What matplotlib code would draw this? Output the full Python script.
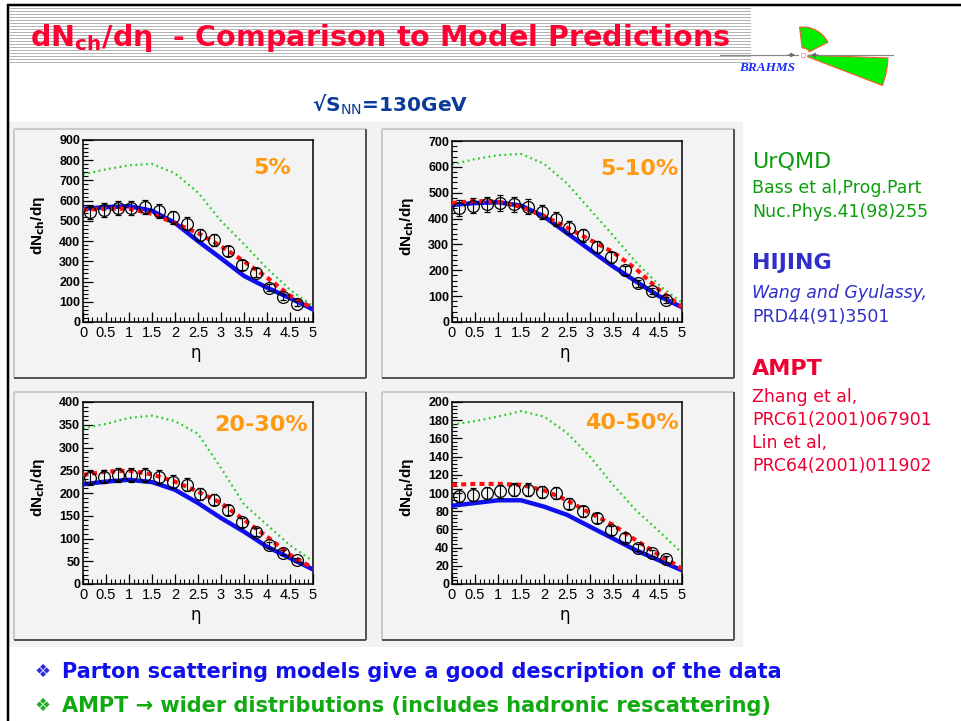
import numpy as np
import matplotlib
matplotlib.use('Agg')
import matplotlib.pyplot as plt
from matplotlib.patches import Rectangle, Wedge
from matplotlib.ticker import MultipleLocator

W, H = 961, 721

# ---------------- data ----------------
eta_data = [0.15, 0.45, 0.75, 1.05, 1.35, 1.65, 1.95, 2.25, 2.55, 2.85, 3.15, 3.45, 3.75, 4.05, 4.35, 4.65]
eta_model = [0.0, 0.5, 1.0, 1.5, 2.0, 2.5, 3.0, 3.5, 4.0, 4.5, 5.0]

centralities = ['5%', '5-10%', '20-30%', '40-50%']

data_05 = [545, 553, 563, 563, 570, 548, 518, 487, 432, 405, 350, 283, 243, 170, 125, 90]
err_05 = [35, 35, 35, 35, 35, 34, 33, 32, 30, 28, 26, 24, 22, 18, 15, 12]
hijing_05 = [560, 568, 573, 550, 490, 400, 315, 228, 170, 118, 62]
ampt_05 = [555, 560, 560, 535, 488, 440, 375, 300, 220, 130, 68]
urqmd_05 = [730, 755, 775, 782, 735, 640, 500, 385, 265, 160, 78]

data_10 = [440, 450, 455, 460, 455, 445, 425, 400, 365, 335, 290, 250, 200, 150, 120, 85]
err_10 = [30, 30, 30, 30, 30, 29, 28, 27, 25, 24, 22, 20, 17, 14, 12, 10]
hijing_10 = [453, 460, 463, 450, 408, 344, 279, 215, 157, 100, 57]
ampt_10 = [460, 468, 465, 445, 410, 365, 318, 270, 205, 125, 58]
urqmd_10 = [610, 630, 645, 650, 612, 536, 435, 335, 232, 143, 75]

data_30 = [233, 236, 239, 240, 240, 235, 225, 218, 198, 185, 163, 136, 115, 86, 69, 53]
err_30 = [15, 15, 15, 15, 15, 15, 14, 14, 13, 12, 11, 10, 9, 7, 6, 5]
hijing_30 = [219, 225, 229, 224, 207, 178, 145, 115, 82, 57, 32]
ampt_30 = [240, 247, 249, 241, 225, 203, 178, 141, 104, 64, 35]
urqmd_30 = [342, 352, 365, 370, 358, 330, 255, 175, 130, 85, 50]

data_50 = [97, 98, 100, 102, 103.5, 103.5, 101, 100, 88, 80, 72, 59, 51, 40, 34, 27.5]
err_50 = [7, 7, 7, 7, 7, 7, 7, 7, 6, 6, 5.5, 5, 4.5, 4, 3, 3]
hijing_50 = [86, 89, 92, 92, 85, 76, 63, 50, 37, 26, 15]
ampt_50 = [109, 110, 110, 109, 103, 92, 78, 65, 48, 32, 17]
urqmd_50 = [175, 179, 184, 190, 184, 166, 140, 109, 81, 58, 34]

y_max = [900, 700, 400, 200]
y_step = [100, 100, 50, 20]
x_ticks = [0, 0.5, 1, 1.5, 2, 2.5, 3, 3.5, 4, 4.5, 5]
x_tick_labels = ['0', '0.5', '1', '1.5', '2', '2.5', '3', '3.5', '4', '4.5', '5']

datas = [data_05, data_10, data_30, data_50]
errs = [err_05, err_10, err_30, err_50]
hijings = [hijing_05, hijing_10, hijing_30, hijing_50]
ampts = [ampt_05, ampt_10, ampt_30, ampt_50]
urqmds = [urqmd_05, urqmd_10, urqmd_30, urqmd_50]

# ---------------- figure ----------------
fig = plt.figure(figsize=(W / 100, H / 100), dpi=100)
fig.patch.set_facecolor('white')

bg = fig.add_axes([0, 0, 1, 1])
bg.set_xlim(0, W)
bg.set_ylim(H, 0)
bg.axis('off')
bg.set_zorder(0)

PX = 72 / 100  # points per pixel

# slide borders
bg.plot([7, W], [4.5, 4.5], color='black', lw=2.5 * PX, solid_capstyle='butt')
bg.plot([7.5, 7.5], [4, H], color='black', lw=2.5 * PX, solid_capstyle='butt')

# title stripes
for ys in np.arange(8, 65, 3):
    bg.plot([9, 750], [ys, ys], color='#b4b4b4', lw=1.0 * PX)

# grey area behind panels
bg.add_patch(Rectangle((9, 122), 734, 525, facecolor='#f2f2f2', edgecolor='none'))

# panel frames
panels = [(14, 129, 366, 378), (382, 129, 734, 378), (14, 392, 366, 640), (382, 392, 734, 640)]
for (x0, y0, x1, y1) in panels:
    bg.add_patch(Rectangle((x0, y0), x1 - x0, y1 - y0, facecolor='#f3f3f3', edgecolor='none'))
    bg.plot([x0, x1], [y0, y0], color='#cacaca', lw=2 * PX, solid_capstyle='butt')
    bg.plot([x0, x0], [y0, y1], color='#cacaca', lw=2 * PX, solid_capstyle='butt')
    bg.plot([x0, x1], [y1, y1], color='#555555', lw=2 * PX, solid_capstyle='butt')
    bg.plot([x1, x1], [y0, y1], color='#555555', lw=2 * PX, solid_capstyle='butt')

# BRAHMS logo
cx, cy = 803, 55
bg.plot([720, 798], [cy, cy], color='#888888', lw=1.2 * PX)
bg.plot([808, 893], [cy, cy], color='#888888', lw=1.2 * PX)
bg.annotate('', xy=(798, cy), xytext=(785, cy),
            arrowprops=dict(arrowstyle='-|>', color='#666666', lw=0.8, mutation_scale=6))
bg.annotate('', xy=(808, cy), xytext=(821, cy),
            arrowprops=dict(arrowstyle='-|>', color='#666666', lw=0.8, mutation_scale=6))
bg.add_patch(Rectangle((800.5, 52.5), 4, 4, facecolor='none', edgecolor='#ff9999', lw=0.6))
bg.add_patch(Wedge((cx, cy), 28, -97, -27, width=21, facecolor='#00ee00', edgecolor='#ff5533', lw=0.8))
bg.add_patch(Wedge((cx, cy), 85, 2, 21, width=80, facecolor='#00ee00', edgecolor='#ff5533', lw=0.8))
bg.text(767, 68, 'BRAHMS', color='#1a2cff', fontsize=9.5, family='Liberation Serif',
        fontweight='bold', style='italic', ha='center', va='center')

# title
bg.text(30, 38, r'dN$_{\mathbf{ch}}$/dη  - Comparison to Model Predictions', color='#ff0033',
        fontsize=20.6, fontweight='bold', family=['DejaVu Sans'], ha='left', va='center')

# sqrt(s)
bg.text(312, 105, r'√S$_{\mathrm{NN}}$=130GeV', color='#0a3a9a', fontsize=14.5, fontweight='bold',
        family=['DejaVu Sans'], ha='left', va='center')

# ---------------- plots ----------------
axes_px = [(83, 140, 313, 322), (452, 141, 682, 322), (83, 402, 313, 584), (452, 402, 682, 584)]
label_pos = [(0.905, 0.846), (0.985, 0.846), (0.98, 0.874), (0.985, 0.885)]

for i, (x0, y0, x1, y1) in enumerate(axes_px):
    ax = fig.add_axes([x0 / W, 1 - y1 / H, (x1 - x0) / W, (y1 - y0) / H])
    ax.set_zorder(2)
    ax.set_facecolor('none')
    ax.plot(eta_model, urqmds[i], color='#22cc22', lw=1.6, linestyle=(0, (0.8, 1.6)), zorder=2)
    ax.plot(eta_model, hijings[i], color='#1010ee', lw=3.2, zorder=3, solid_capstyle='round')
    ax.plot(eta_model, ampts[i], color='#ff1010', lw=3.0, linestyle=(0, (1.2, 1.0)), zorder=4)
    ax.errorbar(eta_data, datas[i], yerr=errs[i], fmt='o', mfc='none', mec='black', ecolor='black',
                ms=8.5, mew=0.9, elinewidth=0.8, capsize=2.5, capthick=0.8, zorder=5)
    ax.set_xlim(0, 5)
    ax.set_ylim(0, y_max[i])
    ax.xaxis.set_major_locator(MultipleLocator(0.5))
    ax.xaxis.set_minor_locator(MultipleLocator(0.1))
    ax.set_xticks(x_ticks)
    ax.set_xticklabels(x_tick_labels)
    ax.yaxis.set_major_locator(MultipleLocator(y_step[i]))
    ax.yaxis.set_minor_locator(MultipleLocator(y_step[i] / 5))
    ax.tick_params(axis='both', which='both', direction='in', top=False, right=False)
    ax.tick_params(axis='both', which='major', length=7, width=0.9)
    ax.tick_params(axis='both', which='minor', length=3.5, width=0.8)
    ax.tick_params(axis='y', pad=2)
    ax.tick_params(axis='x', pad=3)
    for lab in ax.get_yticklabels():
        lab.set_fontfamily('Liberation Sans')
        lab.set_fontweight('bold')
        lab.set_fontsize(9)
    for lab in ax.get_xticklabels():
        lab.set_fontfamily('Liberation Sans')
        lab.set_fontsize(10.5)
    for s in ax.spines.values():
        s.set_linewidth(1.1)
    ax.text(-0.195, 0.53, r'dN$_{\mathbf{ch}}$/dη', transform=ax.transAxes, rotation=90,
            fontsize=11, fontweight='bold', family=['Liberation Sans', 'DejaVu Sans'],
            ha='center', va='center')
    ax.text(0.49, -0.17, 'η', transform=ax.transAxes, fontsize=12, ha='center', va='center',
            family=['DejaVu Sans'])
    lx, ly = label_pos[i]
    ax.text(lx, ly, centralities[i], transform=ax.transAxes, color='#ff9911', fontsize=16,
            fontweight='bold', family=['DejaVu Sans'], ha='right', va='center')

# ---------------- right side text ----------------
def T(x, y, s, color, size, **kw):
    bg.text(x, y, s, color=color, fontsize=size, ha='left', va='center', family=['DejaVu Sans'], **kw)

green = '#0a9e0a'
blue = '#3030c8'
red = '#ee0033'
T(752, 161, 'UrQMD', green, 16)
T(752, 188, 'Bass et al,Prog.Part', green, 12.5)
T(752, 212, 'Nuc.Phys.41(98)255', green, 12.5)
T(752, 263, 'HIJING', blue, 16, fontweight='bold')
T(752, 293, 'Wang and Gyulassy,', blue, 12.5, style='italic')
T(752, 317, 'PRD44(91)3501', blue, 12.5)
T(752, 369, 'AMPT', red, 16, fontweight='bold')
T(752, 397, 'Zhang et al,', red, 12.5)
T(752, 420, 'PRC61(2001)067901', red, 12.5)
T(752, 443, 'Lin et al,', red, 12.5)
T(752, 466, 'PRC64(2001)011902', red, 12.5)

# ---------------- bullets ----------------
T(34, 672, '❖', '#2a2ae0', 13)
T(62, 672, 'Parton scattering models give a good description of the data', '#1010ee', 15,
  fontweight='bold')
T(34, 706, '❖', '#22aa22', 13)
T(62, 706, 'AMPT → wider distributions (includes hadronic rescattering)', '#11aa11', 15,
  fontweight='bold')

fig.savefig('out.png', dpi=100)
